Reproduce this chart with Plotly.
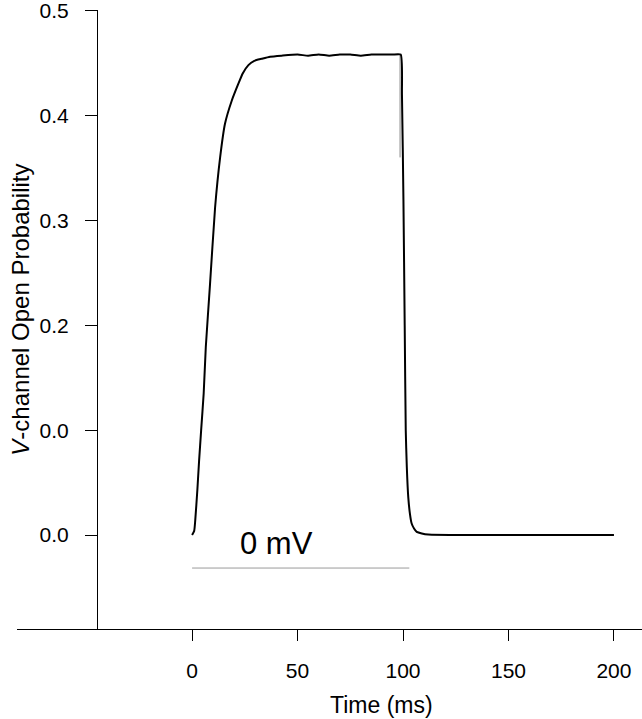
import plotly.graph_objects as go

# Open probability trace during a 100 ms step to 0 mV
time_ms = [0, 1.0, 1.5, 2.5, 3.3, 4.3, 5.5, 6.5, 8.5, 10.9, 13.3, 15.6, 18.8,
           21.9, 24, 26.7, 29.5, 33, 37, 42.5, 50, 55, 60, 65, 70, 75, 80, 85,
           90, 95, 98.9, 99.5, 100.2, 100.8, 101.3, 101.8, 102.5, 103.3, 104.1,
           105.3, 106.5, 108.9, 112, 130, 160, 200]
p_open = [0.0, 0.004, 0.014, 0.043, 0.07, 0.1, 0.135, 0.179, 0.239, 0.312, 0.36,
          0.392, 0.414, 0.43, 0.44, 0.448, 0.452, 0.454, 0.456, 0.457, 0.458,
          0.457, 0.458, 0.457, 0.458, 0.458, 0.457, 0.458, 0.458, 0.458, 0.458,
          0.42, 0.32, 0.2, 0.1, 0.065, 0.036, 0.02, 0.011, 0.006, 0.003,
          0.0015, 0.0005, 0.0, 0.0, 0.0]

# thin second trace at the end of the pulse
step_t = [98.6, 98.6]
step_p = [0.458, 0.36]

# voltage-step bar
pulse_t = [0, 103]
pulse_y = [-0.0314, -0.0314]

x_ticks = [0, 50, 100, 150, 200]
y_ticks = [0.0, 0.1, 0.2, 0.3, 0.4, 0.5]
y_ticktext = ["0.0", "0.0", "0.2", "0.3", "0.4", "0.5"]

FONT = "Arial, Liberation Sans, sans-serif"

fig = go.Figure()
fig.add_trace(go.Scatter(x=pulse_t, y=pulse_y, mode="lines",
                         line=dict(color="#9a9a9a", width=1)))
fig.add_trace(go.Scatter(x=step_t, y=step_p, mode="lines",
                         line=dict(color="#888888", width=1)))
fig.add_trace(go.Scatter(x=time_ms, y=p_open, mode="lines",
                         line=dict(color="black", width=2, shape="spline",
                                   smoothing=0.5)))

fig.add_annotation(x=40, y=-0.0076, xref="x", yref="y", text="0 mV",
                   showarrow=False, font=dict(family=FONT, size=31, color="black"))
fig.add_annotation(x=90, y=-0.123, xref="x", yref="paper", yanchor="middle",
                   text="Time (ms)", showarrow=False,
                   font=dict(family=FONT, size=23, color="black"))
fig.add_annotation(x=0.005, y=0.215, xref="paper", yref="y",
                   xanchor="center", yanchor="middle",
                   text="<i>V</i>-channel Open Probability", textangle=-90,
                   showarrow=False, font=dict(family=FONT, size=24, color="black"))

fig.update_layout(
    width=642, height=719,
    margin=dict(l=17, r=0, t=10, b=90, autoexpand=False),
    paper_bgcolor="white", plot_bgcolor="white",
    showlegend=False,
    font=dict(family=FONT, color="black"),
    xaxis=dict(range=[-83, 213.3], tickvals=x_ticks, ticks="outside",
               ticklen=11, tickcolor="black", showline=True, linecolor="black",
               linewidth=1, showgrid=False, zeroline=False, automargin=False,
               tickfont=dict(size=21), ticklabelstandoff=12),
    yaxis=dict(range=[-0.0895, 0.5005], tickvals=y_ticks, ticktext=y_ticktext,
               anchor="free", position=0.128, ticks="outside", ticklen=12,
               tickcolor="black", showline=True, linecolor="black",
               linewidth=1, showgrid=False, zeroline=False, automargin=False,
               tickfont=dict(size=21), ticklabelstandoff=12,
               ticklabeloverflow="allow"),
)

# drop the page's default 8 px body margin so the figure fills the window
fig.write_html("out.html", config={"displayModeBar": False},
               post_script="document.body.style.margin='0';"
                           "document.body.style.overflow='hidden';")
